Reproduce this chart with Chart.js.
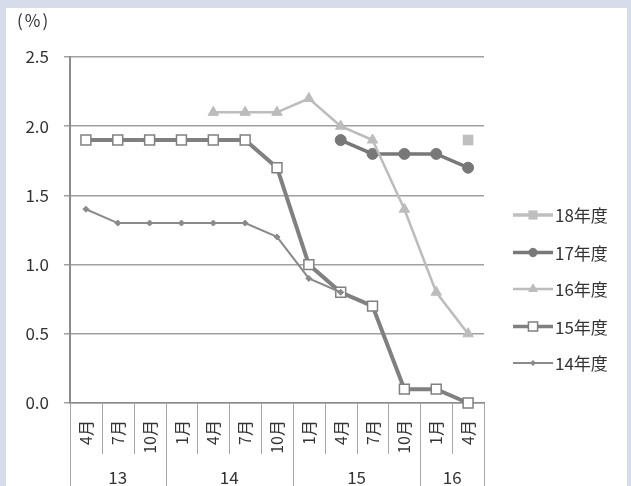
<!DOCTYPE html>
<html><head><meta charset="utf-8">
<script src="https://cdn.jsdelivr.net/npm/chart.js@4"></script>
<style>html,body{margin:0;padding:0;background:#d6dcea;}#wrap{width:631px;height:486px;position:relative;}</style>
</head><body><div id="wrap"><canvas id="c" width="631" height="486"></canvas></div>
<script>
const months = ['4月','7月','10月','1月','4月','7月','10月','1月','4月','7月','10月','1月','4月'];
const yearLabels = ['13','14','15','16'];
const yearSpans = [3,4,4,2];
const yTicks = [0,0.5,1.0,1.5,2.0,2.5];
const seriesNames = ['14年度','15年度','16年度','17年度','18年度'];
const fy14 = [1.4,1.3,1.3,1.3,1.3,1.3,1.2,0.9,0.8,null,null,null,null];
const fy15 = [1.9,1.9,1.9,1.9,1.9,1.9,1.7,1.0,0.8,0.7,0.1,0.1,0.0];
const fy16 = [null,null,null,null,2.1,2.1,2.1,2.2,2.0,1.9,1.4,0.8,0.5];
const fy17 = [null,null,null,null,null,null,null,null,1.9,1.8,1.8,1.8,1.7];
const fy18 = [null,null,null,null,null,null,null,null,null,null,null,null,1.9];

const FONT = '"Noto Sans CJK JP","Noto Sans",sans-serif';

const datasets = [
  {label:seriesNames[0],data:fy14,borderColor:'#8a8a8a',backgroundColor:'#8a8a8a',borderWidth:2,pointStyle:'rectRot',pointRadius:3,pointBorderWidth:1,pointBorderColor:'#8a8a8a',clip:false,legendRadius:2.5,legendLine:2},
  {label:seriesNames[1],data:fy15,borderColor:'#808080',backgroundColor:'#ffffff',borderWidth:4,pointStyle:'rect',pointRadius:7,pointBorderWidth:1.5,pointBorderColor:'#808080',clip:false,legendRadius:6.5,legendLine:3.5},
  {label:seriesNames[2],data:fy16,borderColor:'#bcbcbc',backgroundColor:'#bcbcbc',borderWidth:2.5,pointStyle:'triangle',pointRadius:6,pointBorderWidth:1,pointBorderColor:'#bcbcbc',clip:false,legendRadius:5,legendLine:2.5},
  {label:seriesNames[3],data:fy17,borderColor:'#787878',backgroundColor:'#787878',borderWidth:3.5,pointStyle:'circle',pointRadius:5.5,pointBorderWidth:1,pointBorderColor:'#787878',clip:false,legendRadius:4.2,legendLine:3.5},
  {label:seriesNames[4],data:fy18,borderColor:'#bfbfbf',backgroundColor:'#bfbfbf',borderWidth:4,pointStyle:'rect',pointRadius:7.5,pointBorderWidth:0,pointBorderColor:'#bfbfbf',clip:false,legendRadius:6.5,legendLine:3.5}
];

const decor = {
  id:'decor',
  beforeDraw(chart){
    const ctx = chart.ctx;
    ctx.save();
    ctx.fillStyle='#d6dcea';
    ctx.fillRect(0,0,chart.width,chart.height);
    ctx.fillStyle='#ffffff';
    ctx.fillRect(6,8,621,chart.height-8);
    ctx.restore();
  },
  afterDraw(chart){
    const ctx = chart.ctx, xs = chart.scales.x, ca = chart.chartArea;
    const n = months.length;
    const bound = i => i===0 ? ca.left : (i===n ? ca.right : (xs.getPixelForTick(i-1)+xs.getPixelForTick(i))/2);
    const yearBounds = [0];
    yearSpans.forEach(s=>yearBounds.push(yearBounds[yearBounds.length-1]+s));
    ctx.save();
    ctx.strokeStyle='#a6a6a6';
    ctx.lineWidth=1;
    for(let i=0;i<=n;i++){
      const x = Math.round(bound(i))+0.5;
      const isYear = yearBounds.includes(i);
      ctx.beginPath();
      ctx.moveTo(x,ca.bottom);
      ctx.lineTo(x,isYear?chart.height:ca.bottom+51);
      ctx.stroke();
    }
    ctx.fillStyle='#333333';
    ctx.font='17px '+FONT;
    ctx.textAlign='center';
    ctx.textBaseline='middle';
    for(let k=0;k<yearLabels.length;k++){
      const x=(bound(yearBounds[k])+bound(yearBounds[k+1]))/2;
      ctx.fillText(yearLabels[k],x,ca.bottom+75);
    }
    ctx.font='17px '+FONT;
    ctx.textAlign='left';
    ctx.letterSpacing='2px';
    ctx.fillText('(%)',17,21);
    ctx.restore();
    // legend
    const order=[4,3,2,1,0];
    const rowY=[215,252.5,289,326.5,363];
    order.forEach((di,r)=>{
      const ds=chart.data.datasets[di];
      const y=rowY[r];
      ctx.save();
      ctx.strokeStyle=ds.borderColor;
      ctx.lineWidth=ds.legendLine;
      ctx.beginPath();ctx.moveTo(513,y);ctx.lineTo(553,y);ctx.stroke();
      ctx.fillStyle=ds.backgroundColor;
      ctx.strokeStyle=ds.pointBorderColor;
      ctx.lineWidth=ds.pointBorderWidth||0.001;
      Chart.helpers.drawPoint(ctx,{pointStyle:ds.pointStyle,radius:ds.legendRadius,borderWidth:ds.pointBorderWidth,rotation:0},533,y);
      ctx.fillStyle='#333333';
      ctx.font='17px '+FONT;
      ctx.textAlign='left';ctx.textBaseline='middle';
      ctx.fillText(ds.label,555,y+1);
      ctx.restore();
    });
  }
};

new Chart(document.getElementById('c'),{
  type:'line',
  data:{labels:months,datasets},
  options:{
    responsive:false,animation:false,devicePixelRatio:1,
    spanGaps:false,
    layout:{padding:{top:57,right:147,left:0,bottom:0}},
    plugins:{legend:{display:false},tooltip:{enabled:false}},
    scales:{
      x:{
        offset:true,
        grid:{display:false,drawTicks:false},
        border:{display:true,color:'#8c8c8c',width:1.5},
        ticks:{autoSkip:false,minRotation:90,maxRotation:90,padding:17,color:'#333333',font:{family:FONT,size:16}},
        afterFit(s){s.height=83;}
      },
      y:{
        min:0,max:2.5,
        afterBuildTicks(s){s.ticks=yTicks.map(v=>({value:v}));},
        grid:{color:'#a0a0a0',lineWidth:1.5,tickLength:6},
        border:{display:true,color:'#8c8c8c',width:2},
        ticks:{padding:15,color:'#333333',font:{family:FONT,size:17},callback:v=>Number(v).toFixed(1)},
        afterFit(s){s.width=70;}
      }
    }
  },
  plugins:[decor]
});
</script></body></html>
